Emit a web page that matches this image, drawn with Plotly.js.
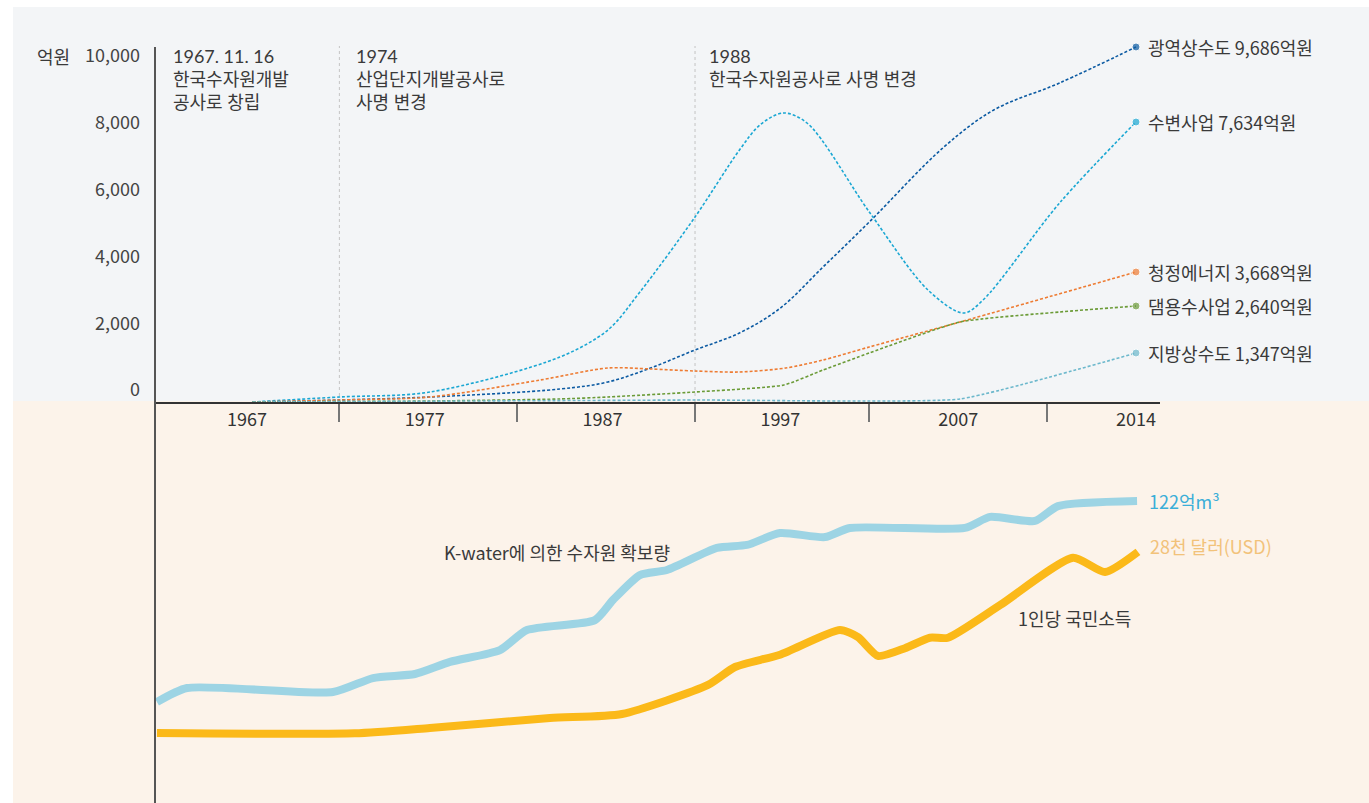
<!DOCTYPE html>
<html>
<head>
<meta charset="utf-8">
<script src="https://cdn.plot.ly/plotly-3.0.1.min.js"></script>
<style>
  html, body { margin: 0; padding: 0; background: #fff; }
  #plot { width: 1369px; height: 803px; }
</style>
</head>
<body>
<div id="plot"></div>
<script>
// x positions are slots on the year axis: 0 = 1967 ... 5 = 2014
let yearTicks = [0, 1, 2, 3, 4, 5];
let yearLabels = ['1967', '1977', '1987', '1997', '2007', '2014'];

// 사업별 매출 (억원)
let wideX = [0.03, 0.52, 1.03, 1.76, 2.03, 2.27, 2.52, 2.77, 3.00, 3.24, 3.50, 3.92, 4.20, 4.57, 5.0];
let wideY = [0, 60, 150, 389, 599, 1018, 1557, 2066, 2814, 4042, 5389, 7635, 8742, 9551, 10629];

let waterfrontX = [0.03, 0.52, 1.03, 1.76, 2.03, 2.21, 2.52, 2.77, 2.885, 3.015, 3.15, 3.50, 3.83, 4.03, 4.14, 4.57, 5.0];
let waterfrontY = [0, 150, 299, 1347, 2156, 3293, 5539, 7545, 8293, 8653, 8353, 5689, 3353, 2665, 3054, 5958, 8383];

let cleanX = [0.03, 0.52, 1.03, 1.65, 2.03, 2.27, 2.52, 2.77, 3.03, 3.24, 3.50, 4.01, 5.0];
let cleanY = [0, 60, 150, 659, 1018, 988, 928, 898, 1018, 1257, 1647, 2395, 3892];

let damX = [0.03, 1.03, 1.76, 2.03, 2.52, 3.02, 3.24, 3.50, 4.01, 4.57, 5.0];
let damY = [0, 30, 90, 150, 299, 509, 958, 1467, 2395, 2695, 2874];

let localX = [0.03, 2.52, 4.01, 5.0];
let localY = [0, 60, 90, 1467];

// 수자원 확보량 (억m3) and 1인당 국민소득 (천 달러)
let waterX = [-0.506, -0.337, 0.484, 0.709, 0.945, 1.142, 1.423, 1.575, 1.957, 2.059, 2.210, 2.362, 2.643, 2.812, 2.998, 3.251, 3.391, 4.038, 4.179, 4.432, 4.561, 5.006];
let waterY = [27.3, 33.9, 32.0, 38.6, 40.5, 46.2, 51.8, 61.2, 65.9, 75.4, 87.1, 89.5, 99.9, 101.3, 106.9, 105.0, 109.3, 109.3, 114.5, 112.6, 119.6, 122];

let gniX = [-0.506, 0.607, 1.029, 1.704, 2.109, 2.593, 2.745, 2.998, 3.335, 3.437, 3.549, 3.701, 3.841, 3.943, 4.235, 4.646, 4.826, 5.011];
let gniY = [0.15, 0.1, 0.92, 2.46, 3.08, 7.54, 10.3, 12.2, 16.0, 14.9, 12.0, 13.2, 14.8, 14.8, 19.8, 27.1, 24.9, 28.0];

let seriesNames = ['광역상수도 9,686억원', '수변사업 7,634억원', '청정에너지 3,668억원', '댐용수사업 2,640억원', '지방상수도 1,347억원'];
let seriesColors = ['#0b5aa2', '#1aa7d3', '#ee7c33', '#6b9b37', '#6cb8cc'];
let seriesX = [wideX, waterfrontX, cleanX, damX, localX];
let seriesY = [wideY, waterfrontY, cleanY, damY, localY];
let smooth = [1, 0.9, 0.8, 0.5, 0.4];

// notes for the name changes, one entry per line
let noteLines = [
  ['1967. 11. 16', '한국수자원개발', '공사로 창립'],
  ['1974', '산업단지개발공사로', '사명 변경'],
  ['1988', '한국수자원공사로 사명 변경']
];

let W = 1369, H = 803;
let font = '"Noto Sans CJK KR", "Noto Sans", sans-serif';
// Lato first keeps the line boxes of the stacked notes tight; Hangul falls back to Noto CJK
let noteFont = 'Lato, "Noto Sans CJK KR", sans-serif';

let traces = [];
seriesX.forEach((xs, i) => {
  traces.push({
    x: xs,
    y: seriesY[i],
    type: 'scatter',
    mode: 'lines+markers',
    line: { color: seriesColors[i], width: 1.6, dash: '3px,2px', shape: 'spline', smoothing: smooth[i] },
    marker: { color: seriesColors[i], size: xs.map((v, j) => j === xs.length - 1 ? 8 : 0) },
    hoverinfo: 'skip'
  });
});

traces.push({
  x: waterX, y: waterY, xaxis: 'x', yaxis: 'y2',
  type: 'scatter', mode: 'lines',
  line: { color: '#9dd4e4', width: 8, shape: 'spline', smoothing: 0.6 },
  hoverinfo: 'skip'
});
traces.push({
  x: gniX, y: gniY, xaxis: 'x', yaxis: 'y3',
  type: 'scatter', mode: 'lines',
  line: { color: '#fbb919', width: 8, shape: 'spline', smoothing: 0.6 },
  hoverinfo: 'skip'
});

let textFont = { family: font, size: 18, color: '#3a3a3a' };

let annotations = [
  { text: '억원', x: 72 / W, y: 1 - 56 / H, xanchor: 'right', yanchor: 'middle' },
  { text: 'K-water에 의한 수자원 확보량', x: 557 / W, y: 1 - 552 / H, xanchor: 'center', yanchor: 'middle' },
  { text: '1인당 국민소득', x: 1016 / W, y: 1 - 618 / H, xanchor: 'left', yanchor: 'middle' }
];
let noteLeft = [172, 355, 708];
noteLines.forEach((lines, i) => {
  lines.forEach((t, j) => {
    annotations.push({
      text: t, x: noteLeft[i] / W, y: 1 - (56 + j * 23) / H, xanchor: 'left', yanchor: 'middle',
      borderpad: 0, font: { family: noteFont, size: 18, color: '#3a3a3a' }
    });
  });
});
annotations = annotations.map(a => Object.assign({ xref: 'paper', yref: 'paper', showarrow: false, font: textFont }, a));

seriesNames.forEach((name, i) => {
  let xs = seriesX[i], ys = seriesY[i];
  annotations.push({
    text: name, xref: 'x', yref: 'y', x: xs[xs.length - 1], y: ys[ys.length - 1],
    xanchor: 'left', yanchor: 'middle', xshift: 10, showarrow: false, font: textFont
  });
});
annotations.push({
  text: '122억m³', xref: 'x', yref: 'y2', x: waterX[waterX.length - 1], y: waterY[waterY.length - 1],
  xanchor: 'left', yanchor: 'middle', xshift: 10, showarrow: false,
  font: { family: font, size: 18, color: '#3aaed8' }
});
annotations.push({
  text: '28천 달러(USD)', xref: 'x', yref: 'y3', x: gniX[gniX.length - 1], y: gniY[gniY.length - 1],
  xanchor: 'left', yanchor: 'middle', xshift: 10, yshift: 6, showarrow: false,
  font: { family: font, size: 18, color: '#f2c27a' }
});

let shapes = [
  // panel backgrounds
  { type: 'rect', xref: 'paper', yref: 'paper', x0: 13 / W, x1: 1, y0: 1 - 401 / H, y1: 1 - 7 / H, fillcolor: '#f3f5f7', line: { width: 0 }, layer: 'below' },
  { type: 'rect', xref: 'paper', yref: 'paper', x0: 13 / W, x1: 1, y0: 0, y1: 1 - 401 / H, fillcolor: '#fcf3ea', line: { width: 0 }, layer: 'below' },
  // name-change markers
  { type: 'line', xref: 'x', yref: 'paper', x0: 0.52, x1: 0.52, y0: 1 - 402 / H, y1: 1 - 46 / H, line: { color: '#c4c4c4', width: 1, dash: 'dot' }, layer: 'below' },
  { type: 'line', xref: 'x', yref: 'paper', x0: 2.52, x1: 2.52, y0: 1 - 402 / H, y1: 1 - 46 / H, line: { color: '#c4c4c4', width: 1, dash: 'dot' }, layer: 'below' },
  // left axis running down through both panels
  { type: 'line', xref: 'paper', yref: 'paper', x0: 155 / W, x1: 155 / W, y0: 0, y1: 1 - 47 / H, line: { color: '#555', width: 2 } }
];

let layout = {
  width: W,
  height: H,
  margin: { l: 0, r: 0, t: 0, b: 0 },
  paper_bgcolor: '#ffffff',
  plot_bgcolor: 'rgba(0,0,0,0)',
  showlegend: false,
  font: { family: font, color: '#3a3a3a' },
  xaxis: {
    domain: [155 / W, 1160 / W],
    range: [-0.517, 5.135],
    anchor: 'y',
    tickmode: 'array',
    tickvals: yearTicks,
    ticktext: yearLabels,
    ticks: '',
    ticklabelstandoff: 0,
    tickfont: { family: font, size: 18, color: '#333' },
    showgrid: false,
    zeroline: false,
    showline: true,
    linecolor: '#333',
    linewidth: 2,
    minor: { tickmode: 'array', tickvals: [0.52, 1.52, 2.52, 3.5, 4.5], ticks: 'outside', ticklen: 18, tickwidth: 2, tickcolor: '#777', showgrid: false }
  },
  yaxis: {
    domain: [1 - 402 / H, 1 - 40 / H],
    range: [0, 10838],
    anchor: 'x',
    tickmode: 'array',
    tickvals: [0, 2000, 4000, 6000, 8000, 10000],
    ticktext: ['0', '2,000', '4,000', '6,000', '8,000', '10,000'],
    ticks: '',
    ticklabelshift: -12,
    ticklabelstandoff: 14,
    tickfont: { family: font, size: 18, color: '#444' },
    showgrid: false,
    zeroline: false,
    showline: false
  },
  yaxis2: {
    domain: [1 - 770 / H, 1 - 470 / H],
    range: [-4.71, 136.6],
    anchor: 'x',
    visible: false
  },
  yaxis3: {
    domain: [1 - 770 / H, 1 - 470 / H],
    range: [-5.54, 40.6],
    anchor: 'x',
    overlaying: 'y2',
    visible: false
  },
  shapes: shapes,
  annotations: annotations
};

Plotly.newPlot('plot', traces, layout, { staticPlot: true, displayModeBar: false });
</script>
</body>
</html>
